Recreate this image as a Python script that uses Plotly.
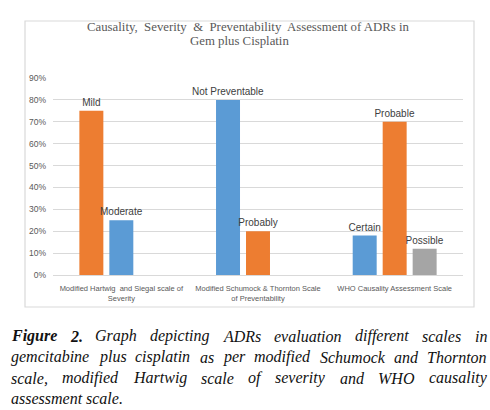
import plotly.graph_objects as go

# ---------------- data ----------------
categories = [
    "Modified Hartwig  and Siegal scale of<br>Severity",
    "Modified Schumock & Thornton Scale<br>of Preventability",
    "WHO Causality Assessment Scale",
]
slot1_values = [0.75, 0.80, 0.18]
slot1_labels = ["Mild", "Not Preventable", "Certain"]
slot2_values = [0.25, 0.20, 0.70]
slot2_labels = ["Moderate", "Probably", "Probable"]
slot3_values = [None, None, 0.12]
slot3_labels = ["", "", "Possible"]
y_ticks = [0, 0.1, 0.2, 0.3, 0.4, 0.5, 0.6, 0.7, 0.8, 0.9]

title_line1 = "Causality,  Severity  &  Preventability  Assessment of ADRs in"
title_line2 = "Gem plus Cisplatin"
caption_lines = [
    "Figure 2. Graph depicting ADRs evaluation different scales in",
    "gemcitabine plus cisplatin as per modified Schumock and Thornton",
    "scale, modified Hartwig scale of severity and WHO causality",
    "assessment scale.",
]

# ---------------- styles ----------------
ORANGE = "#ED7D31"
BLUE = "#5B9BD5"
GRAY = "#A5A5A5"
slot1_colors = [ORANGE, BLUE, BLUE]
slot2_colors = [BLUE, ORANGE, ORANGE]
slot3_colors = [GRAY, GRAY, GRAY]

W, H = 490, 410
PL, PR, PT, PB = 53, 463, 78, 275  # plot area in pixels


def px(x):
    return (x - PL) / (PR - PL)


def py(y):
    return (PB - y) / (PB - PT)


fig = go.Figure()
label_font = dict(family="Liberation Sans, Arial, sans-serif", size=10, color="#404040")
for vals, labs, cols in [
    (slot1_values, slot1_labels, slot1_colors),
    (slot2_values, slot2_labels, slot2_colors),
    (slot3_values, slot3_labels, slot3_colors),
]:
    fig.add_trace(go.Bar(
        x=categories, y=vals, text=labs, marker=dict(color=cols, line=dict(width=0)),
        textposition="outside", textfont=label_font, constraintext="none",
        cliponaxis=False, showlegend=False, hoverinfo="skip",
    ))

fig.update_layout(
    width=W, height=H,
    margin=dict(l=PL, r=W - PR, t=PT, b=H - PB),
    paper_bgcolor="white", plot_bgcolor="white",
    barmode="group", bargap=0.342, bargroupgap=0.2,
    showlegend=False,
)
fig.update_xaxes(
    type="category", showgrid=False, showline=True, linecolor="#d9d9d9", linewidth=1,
    tickfont=dict(family="Liberation Sans, Arial, sans-serif", size=7.5, color="#595959"),
    ticks="", ticklabelstandoff=6,
)
fig.update_yaxes(
    range=[0, 0.9], tickvals=y_ticks, tickformat=".0%", showgrid=True,
    gridcolor="#d9d9d9", gridwidth=1, zeroline=False, showline=False, ticks="",
    tickfont=dict(family="Liberation Sans, Arial, sans-serif", size=8.5, color="#595959"),
    ticklabelstandoff=6,
)

# frame around chart
fig.add_shape(type="rect", xref="paper", yref="paper",
              x0=px(25), x1=px(474), y0=py(21), y1=py(307),
              line=dict(color="#d9d9d9", width=1.2), layer="below")

# title
tfont = dict(family="Liberation Serif, Times New Roman, serif", size=12.8, color="#595959")
fig.add_annotation(text=title_line1, xref="paper", yref="paper", x=px(248), y=py(27),
                   xanchor="center", yanchor="middle", showarrow=False, font=tfont)
fig.add_annotation(text=title_line2, xref="paper", yref="paper", x=px(239), y=py(41),
                   xanchor="center", yanchor="middle", showarrow=False, font=tfont)

# caption (justified, word by word, Times italic metrics)
IT = {' ': 250, '.': 250, ',': 250, '2': 500,
      'a': 500, 'b': 500, 'c': 444, 'd': 500, 'e': 444, 'f': 278, 'g': 500, 'h': 500,
      'i': 278, 'j': 278, 'k': 444, 'l': 278, 'm': 722, 'n': 500, 'o': 500, 'p': 500,
      'q': 500, 'r': 389, 's': 389, 't': 278, 'u': 500, 'v': 444, 'w': 667, 'x': 444,
      'y': 444, 'z': 389, 'A': 611, 'D': 722, 'G': 722, 'H': 722, 'R': 611, 'S': 500,
      'T': 556, 'W': 833, 'O': 722, 'F': 611}
BI = {'F': 667, 'i': 278, 'g': 500, 'u': 556, 'r': 389, 'e': 444, '2': 500, '.': 250, ' ': 250}
CS = 16
CX0, CX1 = 10, 486
cap_y = [336, 357, 378, 398]
cfont = dict(family="Liberation Serif, Times New Roman, serif", size=CS, color="#111111")


def wwidth(word, bold):
    tab = BI if bold else IT
    return sum(tab.get(ch, 500) for ch in word) * CS / 1000.0


for li, line in enumerate(caption_lines):
    words = line.split(" ")
    bolds = [li == 0 and wi < 2 for wi in range(len(words))]
    widths = [wwidth(w, b) for w, b in zip(words, bolds)]
    if li < len(caption_lines) - 1:
        gap = (CX1 - CX0 - sum(widths)) / (len(words) - 1)
    else:
        gap = 0.25 * CS
    x = CX0
    for w, b, wd in zip(words, bolds, widths):
        txt = "<b><i>%s</i></b>" % w if b else "<i>%s</i>" % w
        fig.add_annotation(text=txt, xref="paper", yref="paper", x=px(x), y=py(cap_y[li]),
                           xanchor="left", yanchor="middle", showarrow=False, font=cfont,
                           borderpad=0)
        x += wd + gap

fig.write_html("out.html", config={"displayModeBar": False},
               post_script="document.body.style.margin='0';document.body.style.overflow='hidden';")
